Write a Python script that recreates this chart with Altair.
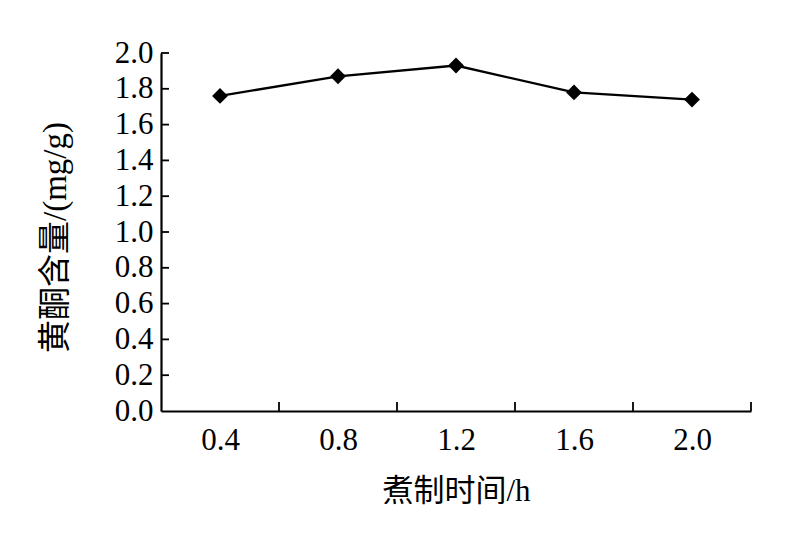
import altair as alt
import pandas as pd

times = [0.4, 0.8, 1.2, 1.6, 2.0]
flavonoid = [1.76, 1.87, 1.93, 1.78, 1.74]
x_ticks = [0.6, 1.0, 1.4, 1.8, 2.2]
y_ticks = [0.2, 0.4, 0.6, 0.8, 1.0, 1.2, 1.4, 1.6, 1.8, 2.0]
y_labels = [0.0, 0.2, 0.4, 0.6, 0.8, 1.0, 1.2, 1.4, 1.6, 1.8, 2.0]

W, H = 590, 358
FONT = "Liberation Serif, Times New Roman, Noto Sans CJK SC"

df = pd.DataFrame({"t": times, "v": flavonoid})
dx = pd.DataFrame({"t": x_ticks})
dy = pd.DataFrame({"v": y_ticks})

xscale = alt.Scale(domain=[0.2, 2.2], nice=False, zero=False)
yscale = alt.Scale(domain=[0, 2.0], nice=False)

xaxis = alt.Axis(
    values=times, format=".1f", ticks=False, grid=False, labelOverlap=False,
    domainColor="black", domainWidth=1.8,
    labelFont=FONT, labelFontSize=31, labelColor="black", labelPadding=14,
    title="煮制时间/h", titleFont=FONT, titleFontSize=31, titleFontWeight="normal",
    titleColor="black", titleX=W / 2, titleY=80, titleBaseline="middle",
)
yaxis = alt.Axis(
    values=y_labels, format=".1f", ticks=False, grid=False, labelOverlap=False,
    domainColor="black", domainWidth=2.2,
    labelFont=FONT, labelFontSize=31, labelColor="black", labelPadding=8,
    title="黄酮含量/(mg/g)", titleFont=FONT, titleFontSize=33, titleFontWeight="normal",
    titleColor="black", titleAngle=-90, titleX=-106, titleY=184,
    titleBaseline="middle", titleAlign="center",
)

line = alt.Chart(df).mark_line(color="black", strokeWidth=2.3).encode(
    x=alt.X("t:Q", scale=xscale, axis=xaxis),
    y=alt.Y("v:Q", scale=yscale, axis=yaxis),
)
pts = alt.Chart(df).mark_point(shape="diamond", filled=True, color="black", size=250, opacity=1).encode(
    x=alt.X("t:Q", scale=xscale, axis=xaxis),
    y=alt.Y("v:Q", scale=yscale, axis=yaxis),
)
xt = alt.Chart(dx).mark_rule(color="black", strokeWidth=1.8).encode(
    x=alt.X("t:Q", scale=xscale, axis=xaxis),
    y=alt.value(H),
    y2=alt.value(H - 9),
)
yt = alt.Chart(dy).mark_rule(color="black", strokeWidth=1.8).encode(
    y=alt.Y("v:Q", scale=yscale, axis=yaxis),
    x=alt.value(0),
    x2=alt.value(8),
)

chart = alt.layer(line, xt, yt, pts).properties(
    width=W, height=H,
    background="white",
    autosize=alt.AutoSizeParams(type="none"),
    padding={"left": 153, "top": 45, "right": 52, "bottom": 121},
).configure_view(stroke="transparent", strokeWidth=0).configure_axis(labelOverlap=False)

chart.save("out.html", embed_options={"renderer": "svg", "actions": False})
